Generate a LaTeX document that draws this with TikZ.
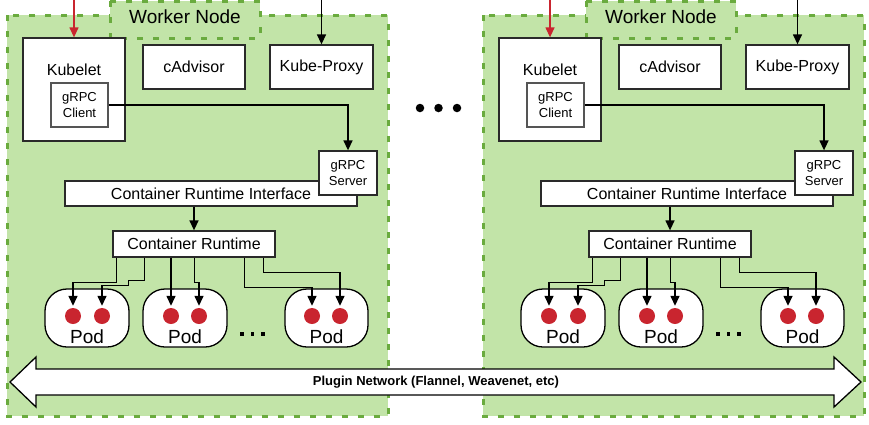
\documentclass[tikz,border=0pt]{standalone}
\usepackage{fontspec}
\setmainfont{Liberation Sans}
\usetikzlibrary{arrows.meta}
\definecolor{wgreen}{HTML}{C2E4A8}
\definecolor{wdash}{HTML}{6AAB3E}
\definecolor{kred}{HTML}{C9252F}
\definecolor{bline}{HTML}{2A2A2A}
\tikzset{
  wbox/.style={fill=wgreen, draw=wdash, line width=3pt, dash pattern=on 6pt off 10pt},
  cbox/.style={draw=bline, fill=white, line width=1.3pt, inner sep=0pt, font=\fontsize{16}{19}\selectfont},
  sbox/.style={draw=bline!80, fill=white, line width=1.3pt, inner sep=0pt, align=center, font=\fontsize{13}{16}\selectfont},
  podbox/.style={draw=black, fill=white, line width=1.3pt, rounded corners=22pt, minimum height=58pt, inner sep=0pt},
  reddot/.style={circle, fill=kred, draw=none, minimum size=16pt, inner sep=0pt},
  smalldot/.style={rectangle, fill=black, draw=none, minimum size=3.6pt, inner sep=0pt},
  bigdot/.style={circle, fill=black, draw=none, minimum size=8.5pt, inner sep=0pt},
  lbl/.style={inner sep=0pt, font=\fontsize{16}{19}\selectfont},
  podlbl/.style={inner sep=0pt, font=\fontsize{19}{22}\selectfont},
  arr/.style={draw=black, line width=1.4pt, -{Triangle[length=10pt,width=9pt]}},
  redarr/.style={draw=kred, line width=1.3pt, -{Triangle[length=10pt,width=9pt]}},
}
\newcommand\wnode[2]{%
\begin{scope}[xshift=#2]
  \path[wbox] (7,15) rectangle (388,416);
  \path[wbox] (110,1) rectangle (260,38);
  \node[inner sep=0pt, font=\fontsize{19}{22}\selectfont] (#1title) at (185,17) {Worker Node};
  \node[cbox, minimum width=102pt, minimum height=103pt] (#1kub) at (74,89.5) {};
  \node[lbl] (#1kubt) at (74,70) {Kubelet};
  \node[sbox, minimum width=57pt, minimum height=44pt] (#1gc) at (79.5,105) {gRPC\\Client};
  \node[cbox, minimum width=102pt, minimum height=44pt] (#1cad) at (194,67) {cAdvisor};
  \node[cbox, minimum width=103pt, minimum height=44pt] (#1kp) at (321.5,67) {Kube-Proxy};
  \node[cbox, minimum width=292pt, minimum height=25pt] (#1cri) at (211,193.5) {Container Runtime Interface};
  \node[sbox, draw=bline, minimum width=58pt, minimum height=44pt] (#1gs) at (348,173) {gRPC\\Server};
  \node[cbox, minimum width=162pt, minimum height=26pt] (#1cr) at (194,244) {Container Runtime};
  \node[podbox, minimum width=84pt] (#1p1) at (87,318) {};
  \node[podbox, minimum width=84pt] (#1p2) at (185,318) {};
  \node[podbox, minimum width=83pt] (#1p3) at (326.5,318) {};
  \node[reddot] (#1c11) at (73,316) {};
  \node[reddot] (#1c12) at (102,316) {};
  \node[reddot] (#1c21) at (171,316) {};
  \node[reddot] (#1c22) at (199,316) {};
  \node[reddot] (#1c31) at (312,316) {};
  \node[reddot] (#1c32) at (340,316) {};
  \node[podlbl] (#1p1t) at (87,337) {Pod};
  \node[podlbl] (#1p2t) at (185,337) {Pod};
  \node[podlbl] (#1p3t) at (326.5,337) {Pod};
  \node[smalldot] (#1d1) at (242,334) {};
  \node[smalldot] (#1d2) at (252.5,334) {};
  \node[smalldot] (#1d3) at (263,334) {};
  \draw[arr] (#1gc.east) -| (#1gs.north);
  \draw[arr] (#1cr.north |- #1cri.south) -- (#1cr.north);
  \draw[arr] ([xshift=4pt]#1cr.south west) -- ++(0,25) -| ([yshift=2pt]#1c11.north);
  \draw[arr] ([xshift=32pt]#1cr.south west) -- ++(0,23) -- ++(-16,0) -- ++(0,5) -| ([yshift=2pt]#1c12.north);
  \draw[arr] (#1c21.north |- #1cr.south) -- ([yshift=2pt]#1c21.north);
  \draw[arr] ([xshift=82pt]#1cr.south west) -- ++(0,25) -| ([yshift=2pt]#1c22.north);
  \draw[arr] ([xshift=132pt]#1cr.south west) -- ++(0,30) -| ([yshift=2pt]#1c31.north);
  \draw[arr] ([xshift=151pt]#1cr.south west) -- ++(0,15) -| ([yshift=2pt]#1c32.north);
  \coordinate (#1rin) at (74,0);
  \coordinate (#1kin) at (321.5,0);
  \draw[redarr] (#1rin) -- (#1kub.north);
  \draw[arr] (#1kin) -- (#1kp.north);
\end{scope}}
\begin{document}
\begin{tikzpicture}[x=1pt,y=-1pt]
  \useasboundingbox (0,0) rectangle (869,424);
  \wnode{L}{0pt}
  \wnode{R}{476pt}
  \node[bigdot] (m1) at (420,108) {};
  \node[bigdot] (m2) at (438.5,108) {};
  \node[bigdot] (m3) at (457,108) {};
  \draw[line width=1.3pt, fill=white, line join=miter]
    (10,382) -- (36,357) -- (36,369) -- (834,369) -- (834,357) -- (861,382)
    -- (834,407) -- (834,395) -- (36,395) -- (36,407) -- cycle;
  \node[inner sep=0pt, font=\bfseries\fontsize{13}{16}\selectfont] (net) at (436,382) {Plugin Network (Flannel, Weavenet, etc)};
\end{tikzpicture}
\end{document}
